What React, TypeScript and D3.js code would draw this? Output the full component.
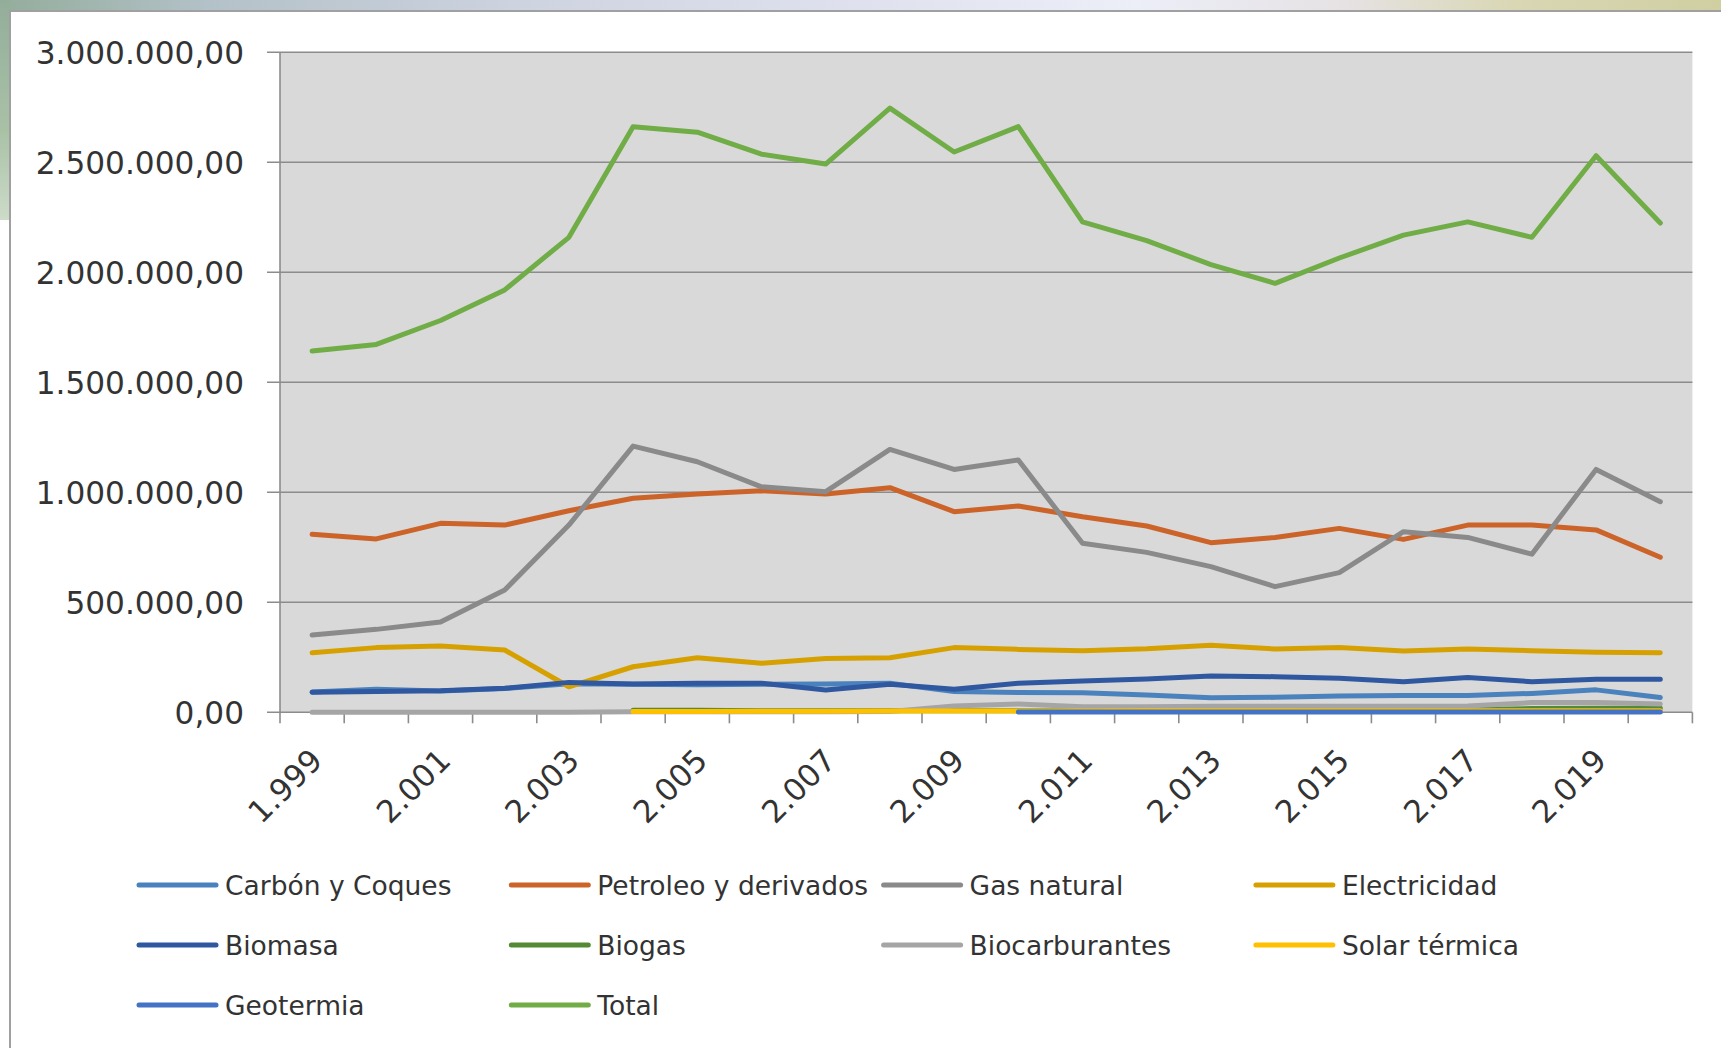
import React from "react";
import * as d3 from "d3";

const years = [1999, 2000, 2001, 2002, 2003, 2004, 2005, 2006, 2007, 2008, 2009, 2010, 2011, 2012, 2013, 2014, 2015, 2016, 2017, 2018, 2019, 2020];

const carbon = [92000, 105000, 97000, 108000, 130000, 128000, 125000, 127000, 129000, 132000, 94000, 90000, 89000, 79000, 66000, 68000, 74000, 76000, 76000, 86000, 102000, 67000];
const petroleo = [809000, 788000, 859000, 851000, 916000, 973000, 992000, 1007000, 992000, 1021000, 912000, 938000, 889000, 847000, 771000, 795000, 836000, 786000, 851000, 851000, 829000, 705000];
const gasNatural = [351000, 377000, 410000, 556000, 851000, 1210000, 1139000, 1025000, 1003000, 1195000, 1104000, 1147000, 768000, 727000, 662000, 571000, 635000, 821000, 795000, 719000, 1104000, 957000];
const electricidad = [271000, 294000, 301000, 283000, 116000, 207000, 248000, 223000, 245000, 248000, 294000, 286000, 280000, 289000, 305000, 288000, 295000, 279000, 288000, 280000, 273000, 271000];
const biomasa = [91000, 94000, 98000, 109000, 136000, 129000, 132000, 132000, 101000, 127000, 105000, 132000, 142000, 151000, 165000, 162000, 155000, 139000, 158000, 139000, 150000, 150000];
const biogas = [null, null, null, null, null, 9000, 9000, 7000, 7000, 7000, 7000, 7000, 7000, 7000, 7000, 7000, 8000, 9000, 12000, 17000, 18000, 18000];
const biocarburantes = [0, 0, 0, 0, 0, 2000, 2000, 2000, 2000, 4000, 29000, 38000, 25000, 25000, 27000, 28000, 28000, 28000, 29000, 44000, 44000, 38000];
const solarTermica = [null, null, null, null, null, 4000, 4000, 5000, 5000, 6000, 6000, 6000, 6000, 7000, 7000, 7000, 7000, 7000, 7000, 7000, 7000, 7000];
const geotermia = [null, null, null, null, null, null, null, null, null, null, null, 1000, 1000, 1000, 1000, 1000, 1000, 1000, 1000, 1000, 1000, 1000];
const total = [1642000, 1672000, 1781000, 1920000, 2159000, 2662000, 2637000, 2537000, 2492000, 2746000, 2547000, 2662000, 2229000, 2144000, 2035000, 1950000, 2065000, 2169000, 2229000, 2159000, 2530000, 2224000];

const yTicks = [0, 500000, 1000000, 1500000, 2000000, 2500000, 3000000];

const seriesNames = ["Carbón y Coques", "Petroleo y derivados", "Gas natural", "Electricidad", "Biomasa", "Biogas", "Biocarburantes", "Solar térmica", "Geotermia", "Total"];
const seriesValues = [carbon, petroleo, gasNatural, electricidad, biomasa, biogas, biocarburantes, solarTermica, geotermia, total];
const seriesColors = ["#4a82bd", "#cc6329", "#8a8a8a", "#d6a100", "#2f58a0", "#548a35", "#a5a5a5", "#ffc000", "#4472c4", "#70ad47"];

const W = 1721;
const H = 1048;
const plotLeft = 280;
const plotRight = 1692.4;
const plotTop = 52.3;
const plotBottom = 712.3;

const loc = d3.formatLocale({ decimal: ",", thousands: ".", grouping: [3], currency: ["", "€"] });
const fmtY = loc.format(",.2f");
const fmtX = loc.format(",");

export default function App() {
  const x = d3.scaleBand<number>().domain(years).range([plotLeft, plotRight]).padding(0);
  const y = d3.scaleLinear().domain([0, 3000000]).range([plotBottom, plotTop]);
  const cx = (yr: number) => (x(yr) as number) + x.bandwidth() / 2;

  const line = d3
    .line<[number, number | null]>()
    .defined((d) => d[1] !== null)
    .x((d) => cx(d[0]))
    .y((d) => y(d[1] as number));

  const boundaries = years.map((yr) => x(yr) as number).concat([plotRight]);

  const legendX0 = 139;
  const legendColW = 372.3;
  const legendRows = [885, 945, 1005];

  return (
    <div style={{ position: "absolute", left: 0, top: 0 }}>
      <svg width={W} height={H} style={{ display: "block" }}>
        <defs>
          <linearGradient id="topbg" x1="0" x2="1" y1="0" y2="0">
            <stop offset="0" stopColor="#93ad9b" />
            <stop offset="0.12" stopColor="#b3c1c8" />
            <stop offset="0.3" stopColor="#cdd3df" />
            <stop offset="0.5" stopColor="#dfe2ee" />
            <stop offset="0.66" stopColor="#eceef8" />
            <stop offset="0.78" stopColor="#e6e2e4" />
            <stop offset="0.88" stopColor="#d9d7b4" />
            <stop offset="1" stopColor="#cfcfa2" />
          </linearGradient>
          <linearGradient id="leftbg" x1="0" x2="0" y1="0" y2="1">
            <stop offset="0" stopColor="#93ad9b" />
            <stop offset="0.6" stopColor="#a9c2a6" />
            <stop offset="1" stopColor="#cddbc9" />
          </linearGradient>
        </defs>
        <rect x={0} y={0} width={W} height={H} fill="#ffffff" />
        <rect x={0} y={0} width={W} height={12} fill="url(#topbg)" />
        <rect x={0} y={0} width={10} height={220} fill="url(#leftbg)" />
        <rect x={10} y={11} width={W + 20} height={H + 20} fill="#ffffff" stroke="#a0a0a0" strokeWidth={2} />

        {/* plot area */}
        <rect x={plotLeft} y={plotTop} width={plotRight - plotLeft} height={plotBottom - plotTop} fill="#d9d9d9" />

        {/* gridlines */}
        {yTicks.map((t) => (
          <line key={"g" + t} x1={plotLeft - 13} x2={plotRight} y1={y(t)} y2={y(t)} stroke="#8c8c8c" strokeWidth={1.6} />
        ))}
        {/* y axis line */}
        <line x1={plotLeft} x2={plotLeft} y1={plotTop} y2={plotBottom} stroke="#8c8c8c" strokeWidth={1.6} />
        {/* x ticks */}
        {boundaries.map((b, i) => (
          <line key={"t" + i} x1={b} x2={b} y1={plotBottom} y2={plotBottom + 11} stroke="#8c8c8c" strokeWidth={1.6} />
        ))}

        {/* y labels */}
        {yTicks.map((t) => (
          <text key={"yl" + t} x={244} y={y(t)} dy="0.36em" textAnchor="end" fontFamily="DejaVu Sans" fontSize={31.2} fill="#333333">
            {fmtY(t)}
          </text>
        ))}

        {/* x labels */}
        {years.map((yr, i) =>
          i % 2 === 0 ? (
            <text
              key={"xl" + yr}
              transform={`translate(${cx(yr) + 12},${plotBottom + 50}) rotate(-45)`}
              textAnchor="end"
              fontFamily="DejaVu Sans"
              fontSize={31}
              fill="#333333"
            >
              {fmtX(yr)}
            </text>
          ) : null
        )}

        {/* series */}
        {seriesValues.map((vals, si) => (
          <path
            key={"s" + si}
            d={line(years.map((yr, i) => [yr, vals[i]] as [number, number | null])) || ""}
            fill="none"
            stroke={seriesColors[si]}
            strokeWidth={5}
            strokeLinejoin="round"
            strokeLinecap="round"
          />
        ))}

        {/* legend */}
        {seriesNames.map((name, i) => {
          const col = i % 4;
          const row = Math.floor(i / 4);
          const lx = legendX0 + col * legendColW;
          const ly = legendRows[row];
          return (
            <g key={"lg" + i}>
              <line x1={lx} x2={lx + 77} y1={ly} y2={ly} stroke={seriesColors[i]} strokeWidth={5} strokeLinecap="round" />
              <text x={lx + 86} y={ly} dy="0.36em" fontFamily="DejaVu Sans" fontSize={26.5} fill="#333333">
                {name}
              </text>
            </g>
          );
        })}
      </svg>
    </div>
  );
}
